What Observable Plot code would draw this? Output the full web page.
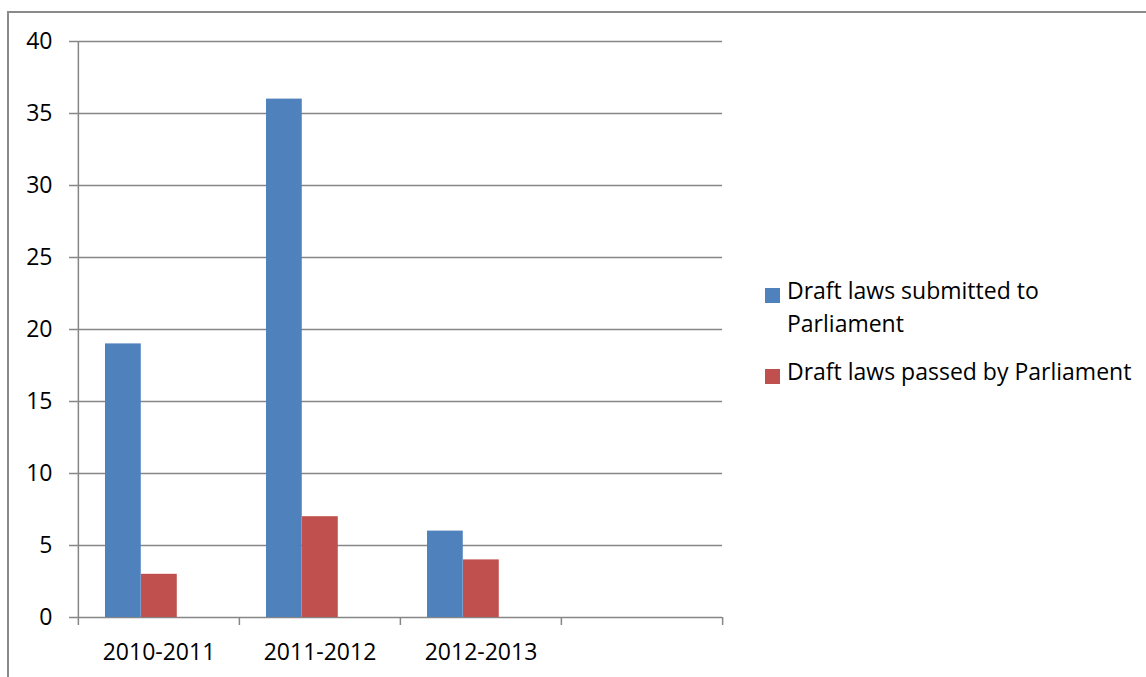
<!DOCTYPE html>
<html>
<head>
<meta charset="utf-8">
<script src="https://cdn.jsdelivr.net/npm/d3@7"></script>
<script src="https://cdn.jsdelivr.net/npm/@observablehq/plot@0.6"></script>
<style>
  html, body { margin: 0; padding: 0; background: #fff; }
  body { width: 1146px; height: 677px; position: relative; overflow: hidden; font-family: "Open Sans", sans-serif; }
  #frame { position: absolute; left: 7px; top: 11px; width: 1200px; height: 700px; border-left: 2px solid #8a8a8a; border-top: 2px solid #8a8a8a; }
  #chart { position: absolute; left: 0; top: 0; }
  #legend { position: absolute; left: 765px; top: 274px; font-size: 23px; line-height: 33px; color: #000; }
  .item { display: flex; align-items: flex-start; }
  .sw { width: 15px; height: 15px; margin-top: 14px; margin-right: 7px; flex: none; }
  .lab { width: 355px; }
</style>
</head>
<body>
<div id="frame"></div>
<div id="chart"></div>
<div id="legend"></div>
<script>
const categories = ["2010-2011", "2011-2012", "2012-2013", ""];
const submitted = [19, 36, 6, null];
const passed = [3, 7, 4, null];
const seriesNames = ["Draft laws submitted to Parliament", "Draft laws passed by Parliament"];
const seriesColors = ["#4F81BD", "#C0504D"];
const yTicks = [0, 5, 10, 15, 20, 25, 30, 35, 40];

const W = 1146, H = 677;
const mL = 77, mR = 424, mT = 41, mB = 60;
const bw = (W - mL - mR) / categories.length;
const barW = bw * 0.2233;
const gap = bw * 0.1675;

const rows = categories.map((c, i) => ({cat: c, s: submitted[i], p: passed[i]}));
const gridColor = "#868686";

const chart = Plot.plot({
  width: W,
  height: H,
  marginLeft: mL,
  marginRight: mR,
  marginTop: mT,
  marginBottom: mB,
  style: {fontFamily: "Open Sans, sans-serif", fontSize: "23px", color: "#000", background: "transparent"},
  x: {type: "band", domain: categories, padding: 0, tickSize: 0, tickPadding: 26, label: null},
  y: {domain: [0, 40], ticks: yTicks, tickSize: 0, tickPadding: 25, label: null},
  marks: [
    Plot.ruleY(yTicks, {y: d => d, stroke: gridColor, strokeWidth: 1.5, insetLeft: -8}),
    Plot.barY(rows.filter(d => d.s != null), {x: "cat", y: "s", fill: seriesColors[0], insetLeft: gap, insetRight: bw - gap - barW}),
    Plot.barY(rows.filter(d => d.p != null), {x: "cat", y: "p", fill: seriesColors[1], insetLeft: gap + barW, insetRight: bw - gap - 2 * barW}),
    Plot.ruleX([categories[0]], {x: d => d, dx: -bw / 2, y1: 40, y2: 0, insetBottom: -8, stroke: gridColor, strokeWidth: 1.5}),
    Plot.ruleX(categories.slice(1), {x: d => d, dx: -bw / 2, y1: 0, y2: 0, insetBottom: -8, stroke: gridColor, strokeWidth: 1.5}),
    Plot.ruleX([categories[categories.length - 1]], {x: d => d, dx: bw / 2, y1: 0, y2: 0, insetBottom: -8, stroke: gridColor, strokeWidth: 1.5})
  ]
});
document.getElementById("chart").appendChild(chart);

const legend = document.getElementById("legend");
seriesNames.forEach((name, i) => {
  const item = document.createElement("div");
  item.className = "item";
  if (i > 0) item.style.marginTop = "15px";
  const sw = document.createElement("div");
  sw.className = "sw";
  sw.style.background = seriesColors[i];
  const lab = document.createElement("div");
  lab.className = "lab";
  lab.textContent = name;
  item.appendChild(sw);
  item.appendChild(lab);
  legend.appendChild(item);
});
</script>
</body>
</html>
